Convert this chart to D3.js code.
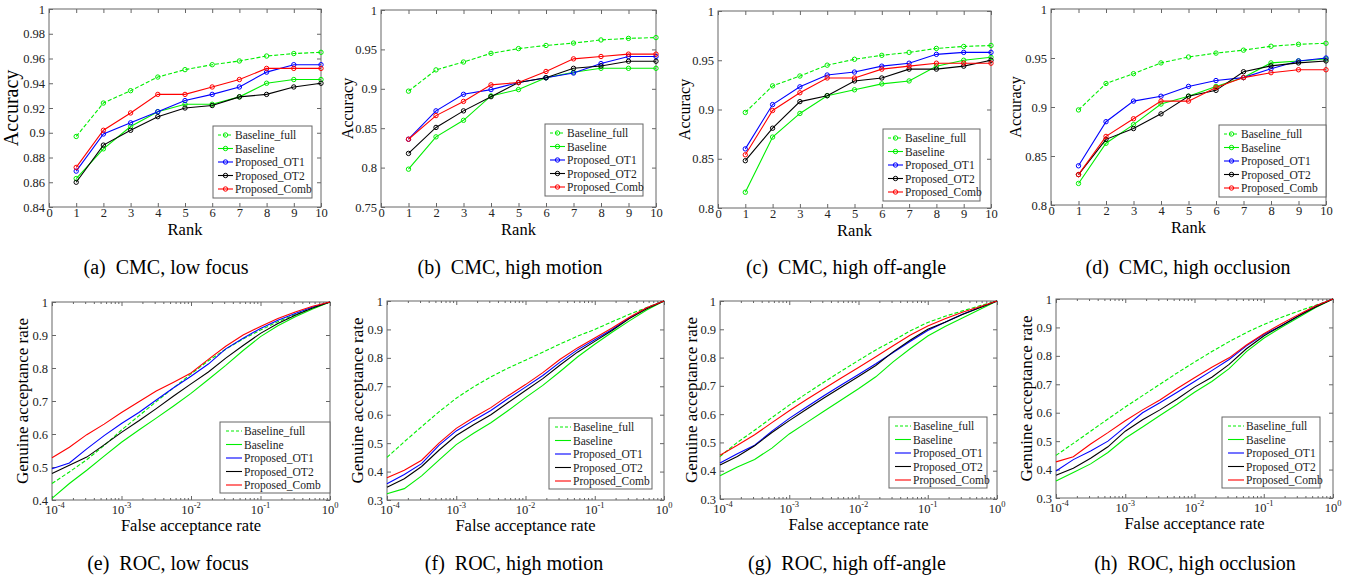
<!DOCTYPE html>
<html>
<head>
<meta charset="utf-8">
<script src="https://cdn.jsdelivr.net/npm/d3@7"></script>
<style>
  body { margin: 0; background: #fff; }
  text { font-family: "Liberation Serif", "Times New Roman", serif; }
</style>
</head>
<body>
<div id="chart"></div>
<script>
// series order: Baseline_full, Baseline, Proposed_OT1, Proposed_OT2, Proposed_Comb
const seriesNames = ["Baseline_full", "Baseline", "Proposed_OT1", "Proposed_OT2", "Proposed_Comb"];
const seriesColors = ["#00ee00", "#00ee00", "#0000ff", "#000000", "#ff0000"];

const ranks = [1, 2, 3, 4, 5, 6, 7, 8, 9, 10];
const rankTicks = [0, 1, 2, 3, 4, 5, 6, 7, 8, 9, 10];

const cmcBaselineFull = [0.897, 0.924, 0.934, 0.945, 0.951, 0.955, 0.958, 0.962, 0.964, 0.965];

// CMC: Baseline, OT1, OT2, Comb
const cmcLowFocus = [
  [0.863, 0.887, 0.905, 0.917, 0.923, 0.923, 0.929, 0.940, 0.943, 0.943],
  [0.869, 0.899, 0.908, 0.917, 0.926, 0.931, 0.937, 0.949, 0.955, 0.955],
  [0.860, 0.890, 0.902, 0.913, 0.920, 0.922, 0.929, 0.931, 0.937, 0.940],
  [0.872, 0.902, 0.916, 0.931, 0.931, 0.937, 0.943, 0.952, 0.952, 0.952]
];
const cmcHighMotion = [
  [0.798, 0.839, 0.860, 0.891, 0.899, 0.914, 0.921, 0.926, 0.926, 0.926],
  [0.836, 0.872, 0.893, 0.899, 0.908, 0.914, 0.920, 0.932, 0.941, 0.941],
  [0.818, 0.851, 0.872, 0.890, 0.908, 0.914, 0.926, 0.929, 0.935, 0.935],
  [0.836, 0.866, 0.884, 0.905, 0.908, 0.922, 0.938, 0.941, 0.944, 0.944]
];
const cmcHighOffAngle = [
  [0.816, 0.872, 0.896, 0.914, 0.920, 0.926, 0.929, 0.944, 0.950, 0.953],
  [0.860, 0.905, 0.923, 0.935, 0.938, 0.944, 0.947, 0.956, 0.958, 0.958],
  [0.848, 0.881, 0.908, 0.914, 0.929, 0.932, 0.941, 0.941, 0.944, 0.950],
  [0.854, 0.899, 0.917, 0.932, 0.932, 0.941, 0.944, 0.947, 0.947, 0.947]
];
const cmcHighOcclusion = [
  [0.822, 0.863, 0.882, 0.903, 0.911, 0.921, 0.930, 0.945, 0.947, 0.949],
  [0.840, 0.885, 0.906, 0.911, 0.921, 0.927, 0.930, 0.939, 0.947, 0.950],
  [0.831, 0.867, 0.878, 0.893, 0.911, 0.917, 0.936, 0.942, 0.945, 0.947],
  [0.831, 0.870, 0.888, 0.906, 0.906, 0.920, 0.930, 0.935, 0.938, 0.938]
];

// ROC: false acceptance rate samples (quarter decades)
const farValues = [1e-4, 1.778e-4, 3.162e-4, 5.623e-4, 1e-3, 1.778e-3, 3.162e-3, 5.623e-3,
  1e-2, 1.778e-2, 3.162e-2, 5.623e-2, 1e-1, 1.778e-1, 3.162e-1, 5.623e-1, 1];
const farTicks = [1e-4, 1e-3, 1e-2, 1e-1, 1];
const farTickExp = ["-4", "-3", "-2", "-1", "0"];

// ROC: Baseline_full, Baseline, OT1, OT2, Comb
const rocLowFocus = [
  [0.450, 0.485, 0.522, 0.565, 0.612, 0.655, 0.698, 0.740, 0.782, 0.822, 0.857, 0.888, 0.915, 0.940, 0.962, 0.982, 1],
  [0.405, 0.450, 0.490, 0.533, 0.575, 0.612, 0.648, 0.685, 0.723, 0.765, 0.808, 0.853, 0.895, 0.928, 0.955, 0.979, 1],
  [0.495, 0.512, 0.555, 0.595, 0.632, 0.665, 0.703, 0.740, 0.775, 0.812, 0.858, 0.890, 0.920, 0.945, 0.965, 0.985, 1],
  [0.480, 0.505, 0.530, 0.567, 0.605, 0.640, 0.677, 0.715, 0.752, 0.788, 0.830, 0.868, 0.905, 0.935, 0.960, 0.982, 1],
  [0.528, 0.560, 0.598, 0.630, 0.665, 0.698, 0.730, 0.757, 0.785, 0.826, 0.866, 0.900, 0.926, 0.950, 0.970, 0.987, 1]
];
const rocHighMotion = [
  [0.450, 0.505, 0.558, 0.610, 0.658, 0.698, 0.733, 0.764, 0.792, 0.820, 0.849, 0.876, 0.900, 0.927, 0.953, 0.977, 1],
  [0.322, 0.340, 0.385, 0.440, 0.495, 0.535, 0.572, 0.615, 0.660, 0.703, 0.752, 0.803, 0.848, 0.890, 0.930, 0.968, 1],
  [0.357, 0.390, 0.428, 0.492, 0.543, 0.580, 0.615, 0.657, 0.697, 0.738, 0.785, 0.828, 0.864, 0.900, 0.940, 0.975, 1],
  [0.345, 0.375, 0.418, 0.475, 0.527, 0.565, 0.600, 0.643, 0.685, 0.727, 0.775, 0.820, 0.858, 0.896, 0.938, 0.973, 1],
  [0.378, 0.405, 0.440, 0.500, 0.552, 0.590, 0.625, 0.667, 0.706, 0.748, 0.795, 0.835, 0.870, 0.905, 0.943, 0.976, 1]
];
const rocHighOffAngle = [
  [0.450, 0.500, 0.543, 0.588, 0.632, 0.673, 0.713, 0.752, 0.790, 0.827, 0.860, 0.895, 0.924, 0.946, 0.965, 0.983, 1],
  [0.382, 0.413, 0.440, 0.480, 0.530, 0.570, 0.610, 0.650, 0.690, 0.732, 0.785, 0.832, 0.876, 0.910, 0.940, 0.970, 1],
  [0.427, 0.460, 0.490, 0.540, 0.585, 0.625, 0.665, 0.703, 0.740, 0.778, 0.818, 0.858, 0.896, 0.925, 0.953, 0.977, 1],
  [0.420, 0.450, 0.488, 0.535, 0.577, 0.617, 0.657, 0.695, 0.733, 0.772, 0.820, 0.862, 0.900, 0.925, 0.952, 0.976, 1],
  [0.455, 0.490, 0.527, 0.570, 0.612, 0.652, 0.690, 0.728, 0.765, 0.803, 0.842, 0.880, 0.912, 0.937, 0.960, 0.980, 1]
];
const rocHighOcclusion = [
  [0.450, 0.492, 0.535, 0.578, 0.620, 0.660, 0.700, 0.740, 0.778, 0.815, 0.850, 0.882, 0.910, 0.935, 0.957, 0.978, 1],
  [0.360, 0.390, 0.420, 0.460, 0.510, 0.550, 0.590, 0.630, 0.672, 0.710, 0.755, 0.815, 0.862, 0.900, 0.935, 0.970, 1],
  [0.395, 0.435, 0.465, 0.500, 0.550, 0.600, 0.635, 0.672, 0.710, 0.748, 0.787, 0.835, 0.875, 0.905, 0.940, 0.975, 1],
  [0.380, 0.405, 0.440, 0.480, 0.535, 0.575, 0.610, 0.648, 0.690, 0.725, 0.770, 0.825, 0.870, 0.905, 0.940, 0.972, 1],
  [0.427, 0.445, 0.490, 0.530, 0.572, 0.610, 0.645, 0.685, 0.723, 0.760, 0.793, 0.838, 0.878, 0.912, 0.945, 0.976, 1]
];

const cmcPanels = [
  {data: cmcLowFocus, caption: "(a)", title: "CMC, low focus", box: [49, 9, 321, 207], y: [0.84, 1, 0.02],
    ylabSize: 20, ylabX: 18, legend: [213, 126, 99, 72], capX: 166},
  {data: cmcHighMotion, caption: "(b)", title: "CMC, high motion", box: [381, 10, 656, 207], y: [0.75, 1, 0.05],
    ylabSize: 16, ylabX: 353, legend: [545, 124, 98, 72], capX: 510},
  {data: cmcHighOffAngle, caption: "(c)", title: "CMC, high off-angle", box: [718, 11, 991, 208], y: [0.8, 1, 0.05],
    ylabSize: 16, ylabX: 690, legend: [883, 129, 97, 72], capX: 846},
  {data: cmcHighOcclusion, caption: "(d)", title: "CMC, high occlusion", box: [1051, 9, 1326, 205], y: [0.8, 1, 0.05],
    ylabSize: 16, ylabX: 1021, legend: [1219, 125, 107, 72], capX: 1188}
];
const rocPanels = [
  {data: rocLowFocus, caption: "(e)", title: "ROC, low focus", box: [52, 302, 330, 500], y: [0.4, 1, 0.1],
    ylabX: 28, legend: [220, 422, 110, 71], capX: 168},
  {data: rocHighMotion, caption: "(f)", title: "ROC, high motion", box: [387, 301, 664, 500], y: [0.3, 1, 0.1],
    ylabX: 363, legend: [549, 418, 103, 71], capX: 514},
  {data: rocHighOffAngle, caption: "(g)", title: "ROC, high off-angle", box: [720, 301, 997, 499], y: [0.3, 1, 0.1],
    ylabX: 697, legend: [889, 417, 98, 71], capX: 847},
  {data: rocHighOcclusion, caption: "(h)", title: "ROC, high occlusion", box: [1056, 299, 1333, 498], y: [0.3, 1, 0.1],
    ylabX: 1032, legend: [1222, 417, 98, 71], capX: 1195}
];

const axisColor = "#666";
const textColor = "#222";

const svg = d3.select("#chart").append("svg")
  .attr("width", 1363)
  .attr("height", 583)
  .style("background", "#fff");

function yTickValues(spec) {
  let out = [];
  let n = Math.round((spec[1] - spec[0]) / spec[2]);
  for (let i = 0; i <= n; i++) out.push(+(spec[0] + i * spec[2]).toFixed(3));
  return out;
}

function fmt(v) {
  return String(+v.toFixed(2));
}

function tidy(sel, size) {
  sel.attr("font-family", null).attr("font-size", null);
  sel.select(".domain").remove();
  sel.selectAll(".tick line").attr("stroke", axisColor);
  sel.selectAll(".tick text").attr("fill", textColor).style("font-size", size + "px");
}

function drawFrame(p, x, y, xTicks, yTicks, minorTicks) {
  let [x0, y0, x1, y1] = p.box;
  let g = svg.append("g");

  g.append("g").attr("transform", "translate(0," + y1 + ")")
    .call(d3.axisBottom(x).tickValues(xTicks).tickSize(-4).tickPadding(1).tickFormat(p.xfmt || ""))
    .call(tidy, 12.5);
  g.append("g").attr("transform", "translate(0," + y0 + ")")
    .call(d3.axisTop(x).tickValues(xTicks).tickSize(-4).tickFormat(""))
    .call(tidy, 12);
  if (minorTicks) {
    g.append("g").attr("transform", "translate(0," + y1 + ")")
      .call(d3.axisBottom(x).tickValues(minorTicks).tickSize(-2).tickFormat(""))
      .call(tidy, 12);
    g.append("g").attr("transform", "translate(0," + y0 + ")")
      .call(d3.axisTop(x).tickValues(minorTicks).tickSize(-2).tickFormat(""))
      .call(tidy, 12);
  }
  g.append("g").attr("transform", "translate(" + x0 + ",0)")
    .call(d3.axisLeft(y).tickValues(yTicks).tickSize(-4).tickPadding(4).tickFormat(fmt))
    .call(tidy, 12.5);
  g.append("g").attr("transform", "translate(" + x1 + ",0)")
    .call(d3.axisRight(y).tickValues(yTicks).tickSize(-4).tickFormat(""))
    .call(tidy, 12);

  g.append("rect")
    .attr("x", x0).attr("y", y0)
    .attr("width", x1 - x0).attr("height", y1 - y0)
    .attr("fill", "none")
    .attr("stroke", axisColor)
    .attr("stroke-width", 1);
  return g;
}

function drawCaption(p, yBase) {
  svg.append("text")
    .attr("x", p.capX).attr("y", yBase)
    .attr("text-anchor", "middle")
    .attr("fill", "#000")
    .style("font-size", "20px")
    .text(p.caption + "\u2002" + p.title);
}

function drawLegend(p, withMarkers) {
  let [lx, ly, lw, lh] = p.legend;
  let g = svg.append("g");
  g.append("rect")
    .attr("x", lx).attr("y", ly).attr("width", lw).attr("height", lh)
    .attr("fill", "#fff").attr("stroke", axisColor);
  seriesNames.forEach(function (name, i) {
    let cy = ly + 9 + i * 13.5;
    let a = withMarkers ? lx + 5 : lx + 6;
    let b = withMarkers ? lx + 20 : lx + 22;
    g.append("line")
      .attr("x1", a).attr("x2", b).attr("y1", cy).attr("y2", cy)
      .attr("stroke", seriesColors[i])
      .attr("stroke-width", 1.1)
      .attr("stroke-dasharray", i === 0 ? "3,2" : null);
    if (withMarkers) {
      g.append("circle")
        .attr("cx", (a + b) / 2).attr("cy", cy).attr("r", 2.2)
        .attr("fill", "none").attr("stroke", seriesColors[i]);
    }
    g.append("text")
      .attr("x", b + 2).attr("y", cy + 4)
      .attr("fill", textColor)
      .style("font-size", "11.5px")
      .text(name);
  });
}

function drawCmc(p) {
  let [x0, y0, x1, y1] = p.box;
  let x = d3.scaleLinear().domain([0, 10]).range([x0, x1]);
  let y = d3.scaleLinear().domain([p.y[0], p.y[1]]).range([y1, y0]);
  p.xfmt = d3.format("d");
  drawFrame(p, x, y, rankTicks, yTickValues(p.y), null);

  let all = [cmcBaselineFull].concat(p.data);
  let line = d3.line()
    .x(function (d, i) { return x(ranks[i]); })
    .y(function (d) { return y(d); });

  let g = svg.append("g");
  all.forEach(function (vals, s) {
    g.append("path")
      .datum(vals)
      .attr("d", line)
      .attr("fill", "none")
      .attr("stroke", seriesColors[s])
      .attr("stroke-width", 1.1)
      .attr("stroke-dasharray", s === 0 ? "4,2" : null);
    g.selectAll(null)
      .data(vals)
      .enter()
      .append("circle")
      .attr("cx", function (d, i) { return x(ranks[i]); })
      .attr("cy", function (d) { return y(d); })
      .attr("r", 2.2)
      .attr("fill", "none")
      .attr("stroke", seriesColors[s]);
  });

  svg.append("text")
    .attr("x", (x0 + x1) / 2).attr("y", y1 + 28)
    .attr("text-anchor", "middle").attr("fill", "#000")
    .style("font-size", "16.5px")
    .text("Rank");
  svg.append("text")
    .attr("transform", "translate(" + p.ylabX + "," + ((y0 + y1) / 2) + ") rotate(-90)")
    .attr("text-anchor", "middle").attr("fill", "#000")
    .style("font-size", p.ylabSize + "px")
    .text("Accuracy");

  drawLegend(p, true);
  drawCaption(p, 274);
}

function drawRoc(p) {
  let [x0, y0, x1, y1] = p.box;
  let x = d3.scaleLog().domain([1e-4, 1]).range([x0, x1]);
  let y = d3.scaleLinear().domain([p.y[0], p.y[1]]).range([y1, y0]);
  let minors = [];
  [1e-4, 1e-3, 1e-2, 1e-1].forEach(function (d) {
    for (let k = 2; k <= 9; k++) minors.push(k * d);
  });
  p.xfmt = "";
  let g = drawFrame(p, x, y, farTicks, yTickValues(p.y), minors);

  farTicks.forEach(function (v, i) {
    let t = g.append("text")
      .attr("x", x(v) + (i === 0 ? 3 : 0)).attr("y", y1 + 14)
      .attr("text-anchor", "middle")
      .attr("fill", textColor)
      .style("font-size", "12.5px");
    t.append("tspan").text("10");
    t.append("tspan").attr("dy", -6).style("font-size", "8.5px").text(farTickExp[i]);
  });

  let line = d3.line()
    .x(function (d, i) { return x(farValues[i]); })
    .y(function (d) { return y(d); });
  let lg = svg.append("g");
  p.data.forEach(function (vals, s) {
    lg.append("path")
      .datum(vals)
      .attr("d", line)
      .attr("fill", "none")
      .attr("stroke", seriesColors[s])
      .attr("stroke-width", 1.1)
      .attr("stroke-dasharray", s === 0 ? "4,2" : null);
  });

  svg.append("text")
    .attr("x", (x0 + x1) / 2).attr("y", y1 + 31)
    .attr("text-anchor", "middle").attr("fill", "#000")
    .style("font-size", "16.5px")
    .text("False acceptance rate");
  svg.append("text")
    .attr("transform", "translate(" + p.ylabX + "," + ((y0 + y1) / 2) + ") rotate(-90)")
    .attr("text-anchor", "middle").attr("fill", "#000")
    .style("font-size", "17px")
    .text("Genuine acceptance rate");

  drawLegend(p, false);
  drawCaption(p, 570);
}

cmcPanels.forEach(drawCmc);
rocPanels.forEach(drawRoc);
</script>
</body>
</html>
